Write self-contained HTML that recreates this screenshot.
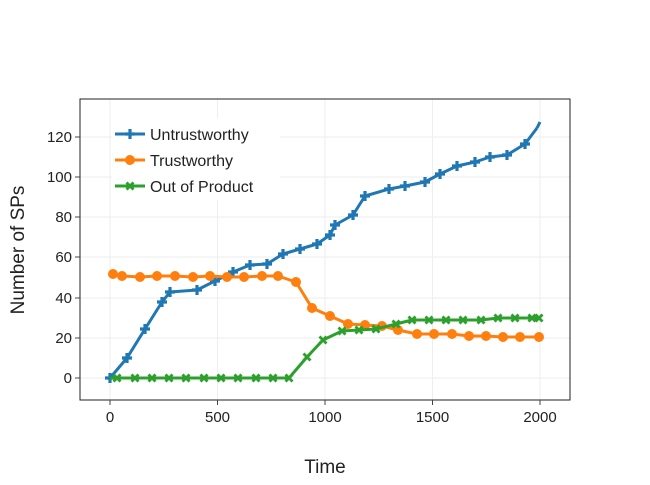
<!DOCTYPE html>
<html><head><meta charset="utf-8"><style>body{margin:0;background:#fff}text{font-family:"Liberation Sans","DejaVu Sans",sans-serif;fill:#222}</style></head><body>
<svg width="650" height="480" viewBox="0 0 650 480" xmlns="http://www.w3.org/2000/svg">
<defs>
<marker id="mp" markerUnits="userSpaceOnUse" markerWidth="12" markerHeight="12" refX="6" refY="6" overflow="visible"><path d="M1,4.4h3.4v-3.4h3.2v3.4h3.4v3.2h-3.4v3.4h-3.2v-3.4h-3.4z" fill="#1f77b4"/></marker>
<marker id="mc" markerUnits="userSpaceOnUse" markerWidth="12" markerHeight="12" refX="6" refY="6" overflow="visible"><circle cx="6" cy="6" r="5" fill="#ff7f0e"/></marker>
<marker id="mx" markerUnits="userSpaceOnUse" markerWidth="12" markerHeight="12" refX="6" refY="6" overflow="visible"><path transform="translate(6,6)" d="M-4.5,-2.5L-2.5,-4.5L0,-2L2.5,-4.5L4.5,-2.5L2,0L4.5,2.5L2.5,4.5L0,2L-2.5,4.5L-4.5,2.5L-2,0z" fill="#2ca02c"/></marker>
</defs>
<g stroke="#eee" stroke-width="1">
<line x1="110" y1="99" x2="110" y2="400"/><line x1="217.5" y1="99" x2="217.5" y2="400"/><line x1="325" y1="99" x2="325" y2="400"/><line x1="432.5" y1="99" x2="432.5" y2="400"/><line x1="540" y1="99" x2="540" y2="400"/>
<line x1="80" y1="378" x2="570" y2="378"/><line x1="80" y1="338" x2="570" y2="338"/><line x1="80" y1="298" x2="570" y2="298"/><line x1="80" y1="257" x2="570" y2="257"/><line x1="80" y1="217" x2="570" y2="217"/><line x1="80" y1="177" x2="570" y2="177"/><line x1="80" y1="137" x2="570" y2="137"/>
</g>
<rect x="80" y="99" width="490" height="301" fill="none" stroke="#222" stroke-width="1"/>
<g stroke="#444" stroke-width="1">
<line x1="75" y1="378" x2="80" y2="378"/><line x1="75" y1="338" x2="80" y2="338"/><line x1="75" y1="298" x2="80" y2="298"/><line x1="75" y1="257" x2="80" y2="257"/><line x1="75" y1="217" x2="80" y2="217"/><line x1="75" y1="177" x2="80" y2="177"/><line x1="75" y1="137" x2="80" y2="137"/>
<line x1="110" y1="400" x2="110" y2="405"/><line x1="217.5" y1="400" x2="217.5" y2="405"/><line x1="325" y1="400" x2="325" y2="405"/><line x1="432.5" y1="400" x2="432.5" y2="405"/><line x1="540" y1="400" x2="540" y2="405"/>
</g>
<g font-size="15" text-anchor="end">
<text x="72" y="383">0</text><text x="72" y="343">20</text><text x="72" y="303">40</text><text x="72" y="262">60</text><text x="72" y="222">80</text><text x="72" y="182">100</text><text x="72" y="142">120</text>
</g>
<g font-size="15" text-anchor="middle">
<text x="110" y="422">0</text><text x="217.5" y="422">500</text><text x="325" y="422">1000</text><text x="432.5" y="422">1500</text><text x="540" y="422">2000</text>
</g>
<text x="325" y="473" font-size="19" text-anchor="middle">Time</text>
<text transform="translate(24,250) rotate(-90)" font-size="19" text-anchor="middle">Number of SPs</text>
<g fill="none" stroke-width="3" stroke-linejoin="round">
<polyline stroke="#1f77b4" marker-start="url(#mp)" marker-mid="url(#mp)" points="110,378 127,358 145,329 162,302 170,292 197,290 215,281 233,272 250,265 267,264 283,254 300,249 317,244 330,235 335,225 353,215 365,196 389,189 405,186 425,182 440,174 457,166 475,162 490,157 507,155 525,144 537,128"/>
<polyline stroke="#1f77b4" points="537,128 540,122"/>
<polyline stroke="#ff7f0e" marker-start="url(#mc)" marker-mid="url(#mc)" marker-end="url(#mc)" points="113,274 122,276 140,277 157,276 175,276 193,277 210,276 227,277 244,277 262,276 278,276 296,282 312,308 330,316 348,324 365,325 382,326 398,330 417,334 434,334 452,334 469,336 486,336 503,337 520,337 539,337"/>
<polyline stroke="#2ca02c" marker-mid="url(#mx)" marker-end="url(#mx)" points="110,378 117,378 135,378 152,378 169,378 186,378 204,378 221,378 238,378 256,378 273,378 289,378 307,357 323,340 342,331 359,330 376,329 396,324 412,320 429,320 446,320 463,320 481,320 498,318 515,318 532,318 539,318"/>
</g>
<rect x="112" y="118" width="168" height="82" fill="#fff"/>
<g stroke-width="3" fill="none">
<polyline points="115,134 130,134 145,134" stroke="#1f77b4" marker-mid="url(#mp)"/>
<polyline points="115,160 130,160 145,160" stroke="#ff7f0e" marker-mid="url(#mc)"/>
<polyline points="115,186 130,186 145,186" stroke="#2ca02c" marker-mid="url(#mx)"/>
</g>
<g font-size="16"><text x="150" y="140">Untrustworthy</text><text x="150" y="166">Trustworthy</text><text x="150" y="192">Out of Product</text></g>
</svg>
</body></html>
